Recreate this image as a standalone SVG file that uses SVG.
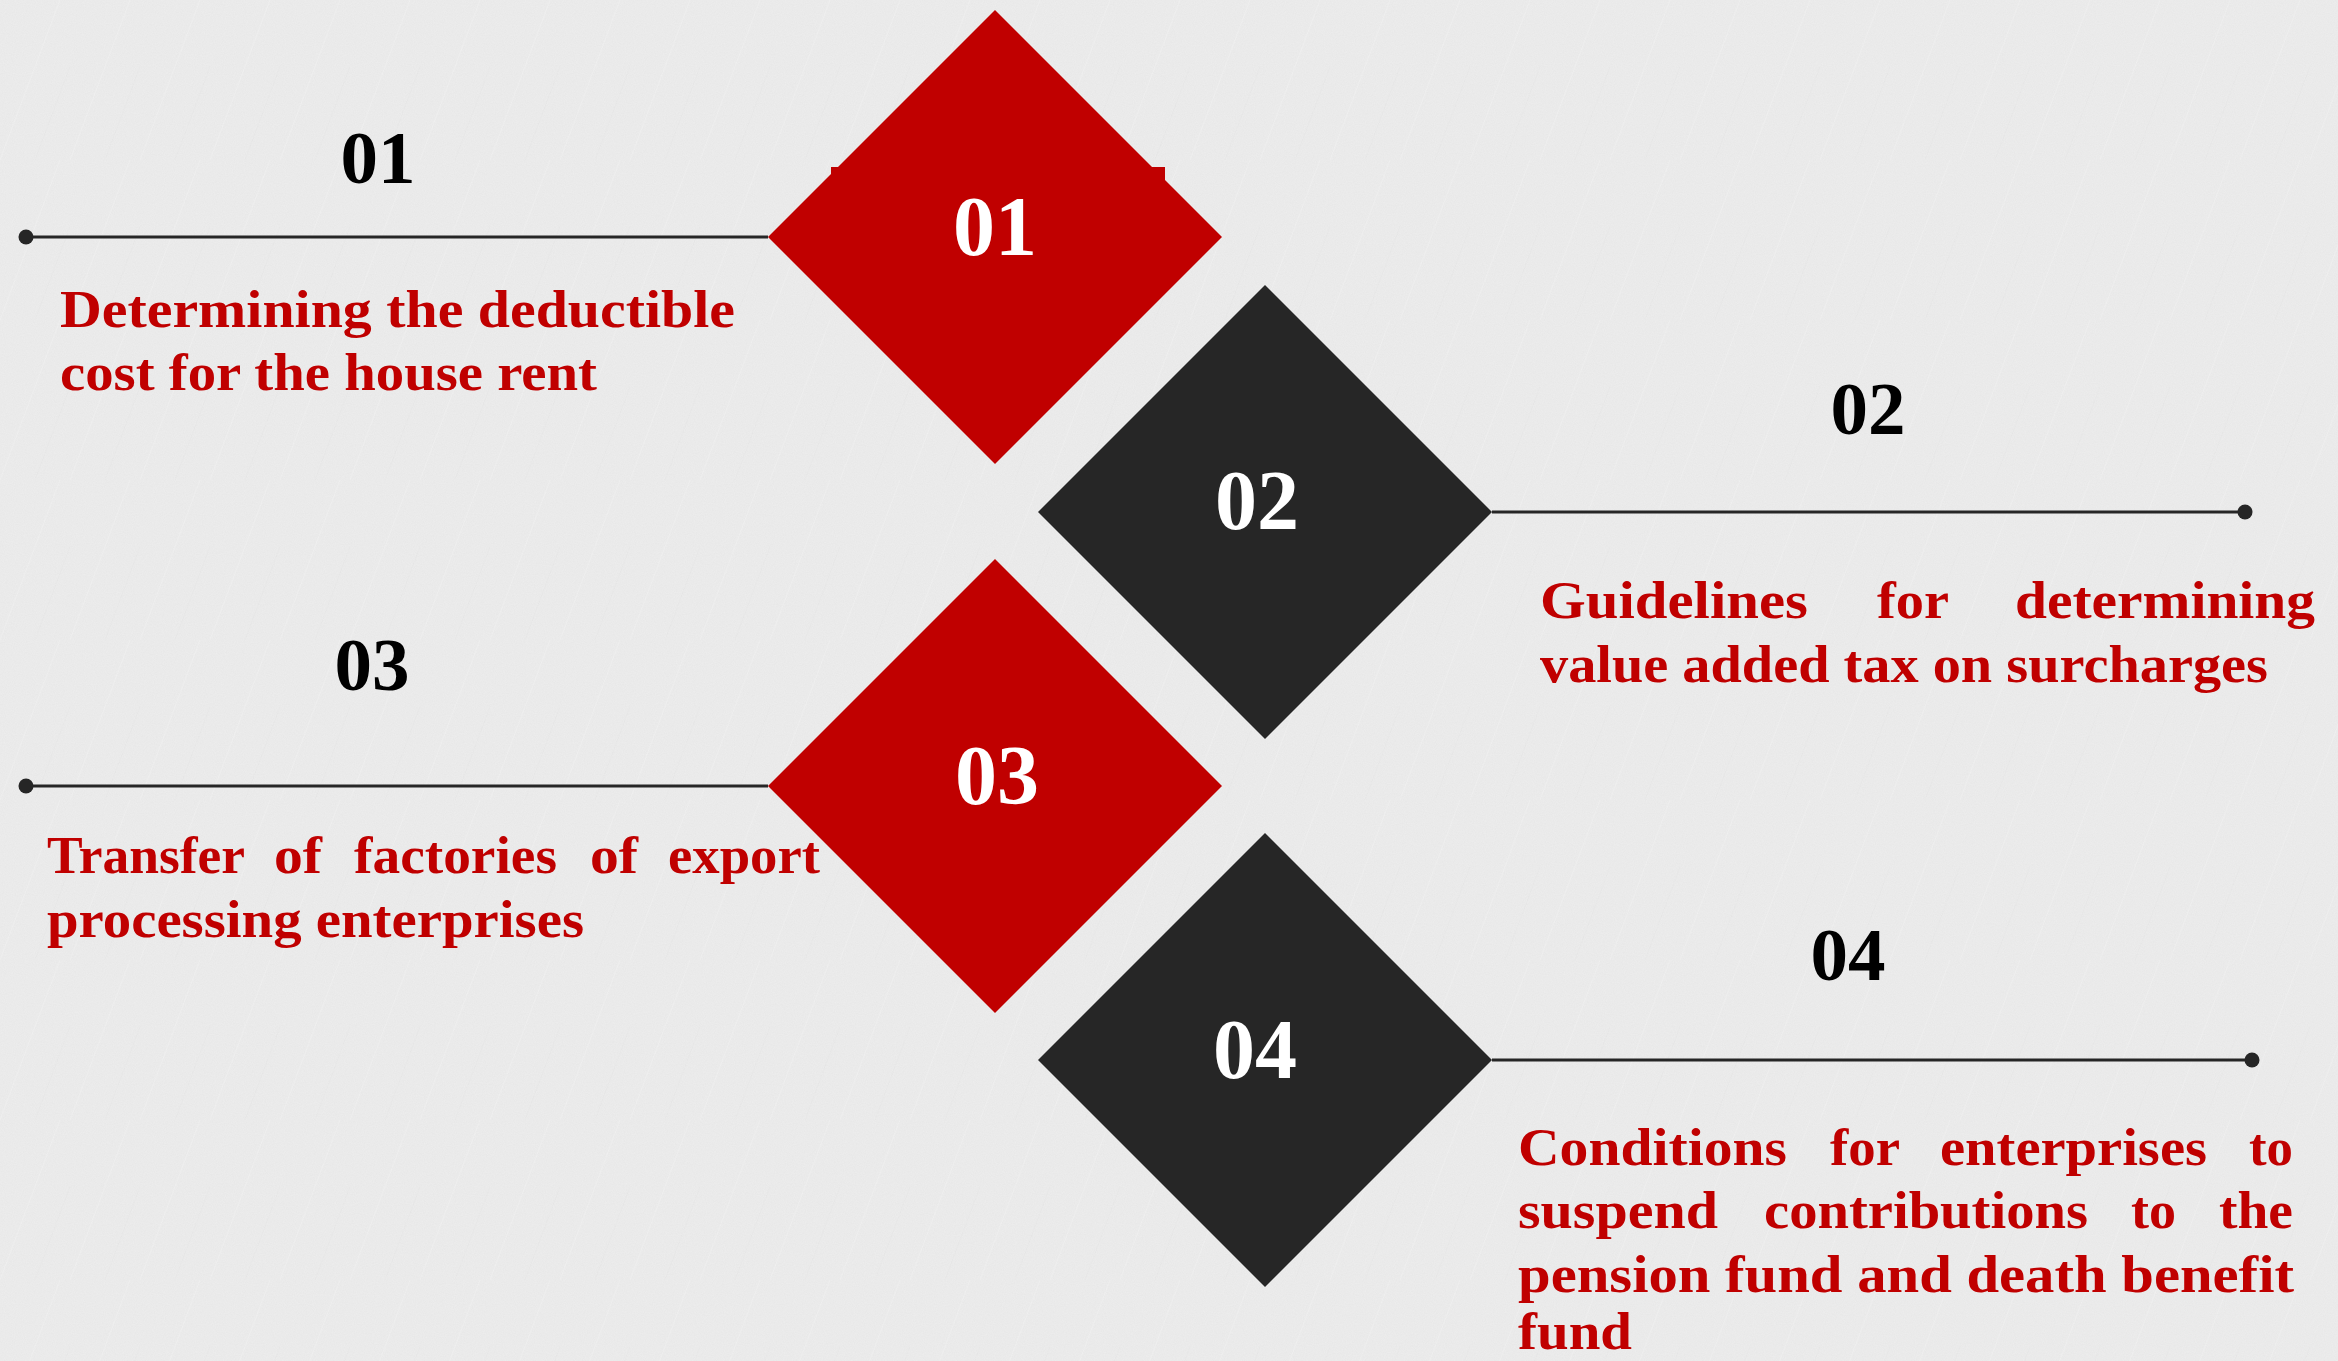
<svg xmlns="http://www.w3.org/2000/svg" width="2338" height="1361" viewBox="0 0 2338 1361">
<style>
.red{fill:#C00000}
.dark{fill:#262626}
.num{font-family:"Liberation Serif","Times New Roman",serif;font-weight:bold;font-size:75px;fill:#000;text-anchor:middle}
.wnum{font-family:"Liberation Serif","Times New Roman",serif;font-weight:bold;font-size:84px;fill:#fff;text-anchor:middle}
.desc{font-family:"Liberation Serif","Times New Roman",serif;font-weight:bold;font-size:53px;fill:#C00000}
.conn{stroke:#262626;stroke-width:3;fill:none}
.dot{fill:#262626}
</style>
<defs>
<pattern id="streaks" width="70" height="160" patternUnits="userSpaceOnUse">
<line x1="0" y1="160" x2="60" y2="0" stroke="#ffffff" stroke-opacity="0.18" stroke-width="1"/>
<line x1="35" y1="160" x2="95" y2="0" stroke="#d6d6d6" stroke-opacity="0.18" stroke-width="1"/>
</pattern>
<filter id="grain" x="0" y="0" width="100%" height="100%">
<feTurbulence type="fractalNoise" baseFrequency="0.9" numOctaves="2" seed="3"/>
<feColorMatrix type="matrix" values="0 0 0 0 1  0 0 0 0 1  0 0 0 0 1  0 0 0 0.5 -0.1"/>
</filter>
</defs>
<rect width="2338" height="1361" fill="#E8E8E8"/>
<rect width="2338" height="1361" fill="url(#streaks)"/>
<rect width="2338" height="1361" filter="url(#grain)" opacity="0.6"/>

<g id="connectors">
<line class="conn" x1="26" y1="237" x2="768" y2="237"/>
<circle class="dot" cx="26" cy="237" r="7.5"/>
<line class="conn" x1="1492" y1="512" x2="2245" y2="512"/>
<circle class="dot" cx="2245" cy="512" r="7.5"/>
<line class="conn" x1="26" y1="786" x2="768" y2="786"/>
<circle class="dot" cx="26" cy="786" r="7.5"/>
<line class="conn" x1="1492" y1="1060" x2="2252" y2="1060"/>
<circle class="dot" cx="2252" cy="1060" r="7.5"/>
</g>

<g id="node1">
<rect class="red" x="831" y="167" width="334" height="20"/>
<polygon class="red" points="995,10 1222,237 995,464 768,237"/>
<text class="wnum" x="995" y="255">01</text>
<text class="num" x="378" y="183">01</text>
<text class="desc" x="60" y="327" textLength="675" lengthAdjust="spacingAndGlyphs">Determining the deductible</text>
<text class="desc" x="60" y="390" textLength="537" lengthAdjust="spacingAndGlyphs">cost for the house rent</text>
</g>

<g id="node2">
<polygon class="dark" points="1265,285 1492,512 1265,739 1038,512"/>
<text class="wnum" x="1257" y="529">02</text>
<text class="num" x="1868" y="434">02</text>
<text class="desc" y="618"><tspan x="1540" textLength="268" lengthAdjust="spacingAndGlyphs">Guidelines</tspan> <tspan x="1877" textLength="71" lengthAdjust="spacingAndGlyphs">for</tspan> <tspan x="2015" textLength="300" lengthAdjust="spacingAndGlyphs">determining</tspan></text>
<text class="desc" x="1540" y="682" textLength="728" lengthAdjust="spacingAndGlyphs">value added tax on surcharges</text>
</g>

<g id="node3">
<polygon class="red" points="995,559 1222,786 995,1013 768,786"/>
<text class="wnum" x="997" y="804">03</text>
<text class="num" x="372" y="690">03</text>
<text class="desc" y="873"><tspan x="47" textLength="197" lengthAdjust="spacingAndGlyphs">Transfer</tspan> <tspan x="274" textLength="48" lengthAdjust="spacingAndGlyphs">of</tspan> <tspan x="354" textLength="203" lengthAdjust="spacingAndGlyphs">factories</tspan> <tspan x="590" textLength="48" lengthAdjust="spacingAndGlyphs">of</tspan> <tspan x="668" textLength="152" lengthAdjust="spacingAndGlyphs">export</tspan></text>
<text class="desc" x="47" y="937" textLength="537" lengthAdjust="spacingAndGlyphs">processing enterprises</text>
</g>

<g id="node4">
<polygon class="dark" points="1265,833 1492,1060 1265,1287 1038,1060"/>
<text class="wnum" x="1255" y="1078">04</text>
<text class="num" x="1848" y="980">04</text>
<text class="desc" y="1165"><tspan x="1518" textLength="269" lengthAdjust="spacingAndGlyphs">Conditions</tspan> <tspan x="1830" textLength="69" lengthAdjust="spacingAndGlyphs">for</tspan> <tspan x="1940" textLength="267" lengthAdjust="spacingAndGlyphs">enterprises</tspan> <tspan x="2249" textLength="44" lengthAdjust="spacingAndGlyphs">to</tspan></text>
<text class="desc" y="1228"><tspan x="1518" textLength="200" lengthAdjust="spacingAndGlyphs">suspend</tspan> <tspan x="1764" textLength="324" lengthAdjust="spacingAndGlyphs">contributions</tspan> <tspan x="2131" textLength="45" lengthAdjust="spacingAndGlyphs">to</tspan> <tspan x="2219" textLength="74" lengthAdjust="spacingAndGlyphs">the</tspan></text>
<text class="desc" x="1518" y="1292" textLength="776" lengthAdjust="spacingAndGlyphs">pension fund and death benefit</text>
<text class="desc" x="1518" y="1349" textLength="114" lengthAdjust="spacingAndGlyphs">fund</text>
</g>
</svg>
